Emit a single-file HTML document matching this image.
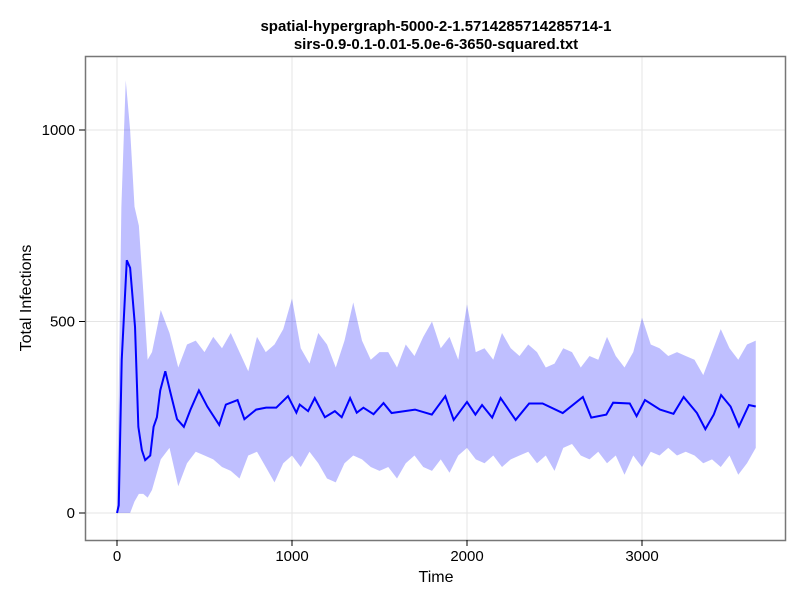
<!DOCTYPE html>
<html><head><meta charset="utf-8"><style>
body{margin:0;background:#fff;}
svg text{font-family:"Liberation Sans",sans-serif;}
</style></head><body>
<svg width="800" height="600" xmlns="http://www.w3.org/2000/svg">
<rect width="800" height="600" fill="#fff"/>
<g id="grid"></g>
<path id="band" fill="#0000ff" fill-opacity="0.25"/>
<path id="line" fill="none" stroke="#0000ff" stroke-width="2"/>
<rect x="85.5" y="56.5" width="700" height="484" fill="none" stroke="#777" stroke-width="1.5"/>
<g id="ticks"></g>
<text x="436" y="31" text-anchor="middle" font-size="15" font-weight="bold">spatial-hypergraph-5000-2-1.5714285714285714-1</text>
<text x="436" y="49" text-anchor="middle" font-size="15" font-weight="bold">sirs-0.9-0.1-0.01-5.0e-6-3650-squared.txt</text>
<text x="436" y="582" text-anchor="middle" font-size="16">Time</text>
<text transform="translate(31,298) rotate(-90)" text-anchor="middle" font-size="16">Total Infections</text>
</svg>
<script>
const meanT=[0,10,27,56,75,103,122,142,161,190,209,228,247,276,305,343,382,420,468,516,584,622,689,728,795,852,910,977,1025,1044,1092,1130,1188,1245,1284,1332,1370,1408,1466,1523,1569,1703,1799,1876,1924,2000,2048,2086,2144,2192,2278,2355,2432,2547,2662,2710,2796,2835,2930,2969,3017,3103,3180,3238,3314,3362,3410,3452,3506,3554,3611,3650];
const meanV=[0,20,400,660,640,486,225,164,138,150,225,250,320,370,315,245,225,270,320,278,230,283,295,245,270,275,275,305,262,283,266,300,250,266,250,300,262,275,258,287,261,270,257,305,243,290,257,282,249,300,243,286,286,261,303,249,257,288,286,253,295,270,259,303,261,219,257,308,278,226,282,278];
const bandT=[0,25,50,75,100,125,150,175,200,250,300,350,400,450,500,550,600,650,700,750,800,850,900,950,1000,1050,1100,1150,1200,1250,1300,1350,1400,1450,1500,1550,1600,1650,1700,1750,1800,1850,1900,1950,2000,2050,2100,2150,2200,2250,2300,2350,2400,2450,2500,2550,2600,2650,2700,2750,2800,2850,2900,2950,3000,3050,3100,3150,3200,3250,3300,3350,3400,3450,3500,3550,3600,3650];
const upperV=[0,800,1130,1000,800,750,580,400,420,530,470,380,440,450,420,460,430,470,420,370,460,420,440,480,560,430,390,470,440,380,450,550,450,400,420,420,380,440,410,460,500,430,460,400,545,420,430,400,470,430,410,440,420,380,390,430,420,380,410,400,460,410,380,420,510,440,430,410,420,410,400,360,420,480,430,400,440,450];
const lowerV=[0,0,0,0,30,50,50,40,60,140,170,70,130,160,150,140,120,110,90,150,160,120,80,130,150,120,160,130,90,80,130,150,140,120,110,120,90,130,150,120,110,140,105,150,170,140,130,150,120,140,150,160,130,150,110,170,180,150,140,160,130,150,100,150,120,160,150,170,150,160,150,130,140,120,150,100,130,170];
const xTicks=[0,1000,2000,3000];
const yTicks=[0,500,1000];
const X=t=>117+t*0.175;
const Y=v=>513-v*0.383;
const NS="http://www.w3.org/2000/svg";
const grid=document.getElementById('grid'),ticks=document.getElementById('ticks');
xTicks.forEach(t=>{
 const l=document.createElementNS(NS,'line');
 l.setAttribute('x1',X(t));l.setAttribute('x2',X(t));l.setAttribute('y1',57);l.setAttribute('y2',540);
 l.setAttribute('stroke','#e5e5e5');
 
 
 grid.appendChild(l);
 const k=document.createElementNS(NS,'line');
 k.setAttribute('x1',X(t));k.setAttribute('x2',X(t));k.setAttribute('y1',540);k.setAttribute('y2',546);k.setAttribute('stroke','#000');
 
 
 ticks.appendChild(k);
 const tx=document.createElementNS(NS,'text');
 tx.setAttribute('x',X(t));tx.setAttribute('y',561);tx.setAttribute('text-anchor','middle');tx.setAttribute('font-size','15');
 tx.textContent=t;
 
 
 ticks.appendChild(tx);
});
yTicks.forEach(v=>{
 const l=document.createElementNS(NS,'line');
 l.setAttribute('x1',86);l.setAttribute('x2',785);l.setAttribute('y1',Y(v));l.setAttribute('y2',Y(v));
 l.setAttribute('stroke','#e5e5e5');
 
 
 grid.appendChild(l);
 const k=document.createElementNS(NS,'line');
 k.setAttribute('x1',79);k.setAttribute('x2',85);k.setAttribute('y1',Y(v));k.setAttribute('y2',Y(v));k.setAttribute('stroke','#000');
 
 
 ticks.appendChild(k);
 const tx=document.createElementNS(NS,'text');
 tx.setAttribute('x',75);tx.setAttribute('y',Y(v)+5);tx.setAttribute('text-anchor','end');tx.setAttribute('font-size','15');
 tx.textContent=v;
 
 
 ticks.appendChild(tx);
});
let d='M'+bandT.map((t,i)=>X(t)+','+Y(upperV[i])).join('L');
for(let i=bandT.length-1;i>=0;i--) d+='L'+X(bandT[i])+','+Y(lowerV[i]);
document.getElementById('band').setAttribute('d',d+'Z');
document.getElementById('line').setAttribute('d','M'+meanT.map((t,i)=>X(t)+','+Y(meanV[i])).join('L'));
</script>
</body></html>
